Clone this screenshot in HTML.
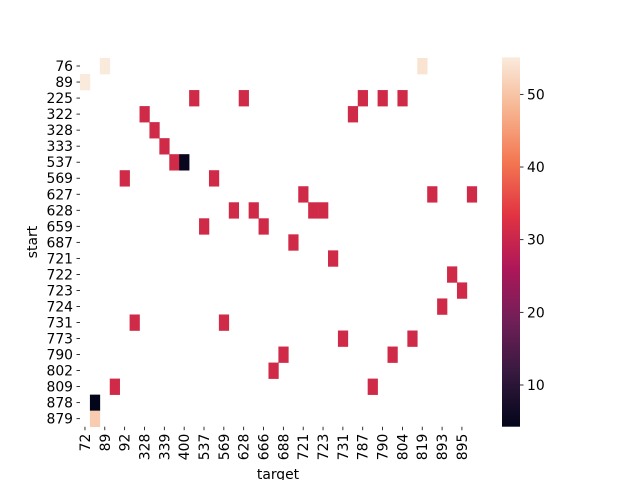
<!DOCTYPE html>
<html><head><meta charset="utf-8">
<style>
html,body{margin:0;padding:0;background:#fff;}
svg{display:block;font-family:"DejaVu Sans","Liberation Sans",sans-serif;}
</style></head>
<body>
<svg id="chart" width="640" height="480" viewBox="0 0 640 480">
<defs>
<linearGradient id="cbgrad" x1="0" y1="1" x2="0" y2="0">
<stop offset="0" stop-color="#03051a"/>
<stop offset="0.1429" stop-color="#35193e"/>
<stop offset="0.2857" stop-color="#701f57"/>
<stop offset="0.4286" stop-color="#ad1759"/>
<stop offset="0.5714" stop-color="#e13342"/>
<stop offset="0.7143" stop-color="#f37651"/>
<stop offset="0.8571" stop-color="#f6b48f"/>
<stop offset="1" stop-color="#faebdd"/>
</linearGradient>
</defs>
<g id="cells"></g>
<g id="yaxis"></g>
<g id="xaxis"></g>
<text x="37" y="242" font-size="13.9" text-anchor="middle" transform="rotate(-90 37 242)">start</text>
<text x="278" y="479" font-size="13.9" text-anchor="middle">target</text>
<rect x="502" y="57.3" width="18" height="369.4" fill="url(#cbgrad)"/>
<g id="cbticks"></g>
</svg>
<script>
const startLabels = ["76","89","225","322","328","333","537","569","627","628","659","687","721","722","723","724","731","773","790","802","809","878","879"];
const targetLabels = ["72","76","89","90","92","225","328","333","339","390","400","500","537","550","569","600","628","659","666","687","688","700","721","722","723","724","731","773","787","788","790","802","804","809","819","878","893","894","895","896"];
const cellStart  = ["76","76","89","225","225","225","225","225","322","322","328","333","537","537","569","569","627","627","627","628","628","628","628","659","659","687","721","722","723","724","731","731","773","773","790","790","802","809","809","878","879"];
const cellTarget = ["89","819","72","500","628","787","790","804","328","773","333","339","390","400","92","550","721","878","896","600","659","722","723","537","666","700","724","894","895","893","225","569","731","809","688","802","687","90","788","76","76"];
const cellValue  = [55,54,55,31,31,31,31,31,31,31,31,31,31,5,31,31,31,31,31,31,31,31,31,31,31,31,31,31,31,31,31,31,31,31,31,31,31,31,31,4,51];
const cbTicks = [10,20,30,40,50];

const VMIN = 4.26, VMAX = 55.1;
const X0 = 80, CW = 9.92, Y0 = 58, RH = 16.03;
const CB_TOP = 57.3, CB_BOT = 426.7;
const FS = 13.9;
const NS = "http://www.w3.org/2000/svg";
const stops = ["#03051a","#35193e","#701f57","#ad1759","#e13342","#f37651","#f6b48f","#faebdd"];
function hex(h){return [1,3,5].map(i=>parseInt(h.substr(i,2),16));}
function cmap(v){
  let t=(v-VMIN)/(VMAX-VMIN); t=Math.max(0,Math.min(1,t));
  const p=t*(stops.length-1); const i=Math.min(stops.length-2,Math.floor(p)); const f=p-i;
  const a=hex(stops[i]), b=hex(stops[i+1]);
  return "rgb("+a.map((c,k)=>Math.round(c+(b[k]-c)*f)).join(",")+")";
}
function xScale(label){return X0 + targetLabels.indexOf(label)*CW;}
function yScale(label){return Y0 + startLabels.indexOf(label)*RH;}
function cbScale(v){return CB_BOT - (v-VMIN)/(VMAX-VMIN)*(CB_BOT-CB_TOP);}
function mk(tag, attrs, parent){const e=document.createElementNS(NS,tag);for(const k in attrs)e.setAttribute(k,attrs[k]);parent.appendChild(e);return e;}

const gCells=document.getElementById("cells");
for(let i=0;i<cellValue.length;i++){
  const r=mk("rect",{x:xScale(cellTarget[i]),y:yScale(cellStart[i]),width:CW+0.3,height:RH+0.3,fill:cmap(cellValue[i])},gCells);
  
  
}
const gy=document.getElementById("yaxis");
startLabels.forEach((s,i)=>{
  const y=Y0+(i+0.5)*RH;
  const l=mk("line",{x1:76.5,x2:80,y1:y,y2:y,stroke:"#000","stroke-width":0.8},gy);
  
  
  const t=mk("text",{x:73,y:y+5,"font-size":FS,"text-anchor":"end"},gy);
  t.textContent=s;
  
  
});
const gx=document.getElementById("xaxis");
const XB=Y0+startLabels.length*RH;
targetLabels.forEach((s,i)=>{
  if(i%2) return;
  const x=X0+(i+0.5)*CW;
  const l=mk("line",{x1:x,x2:x,y1:XB,y2:XB+3.5,stroke:"#000","stroke-width":0.8},gx);
  
  
  const t=mk("text",{x:x+5,y:XB+7,"font-size":FS,"text-anchor":"end",transform:"rotate(-90 "+(x+5)+" "+(XB+7)+")"},gx);
  t.textContent=s;
  
  
});
const gc=document.getElementById("cbticks");
cbTicks.forEach(v=>{
  const y=cbScale(v);
  const l=mk("line",{x1:520,x2:523.5,y1:y,y2:y,stroke:"#000","stroke-width":0.8},gc);
  
  
  const t=mk("text",{x:527,y:y+5,"font-size":FS},gc);
  t.textContent=v;
  
  
});
</script>
</body></html>
